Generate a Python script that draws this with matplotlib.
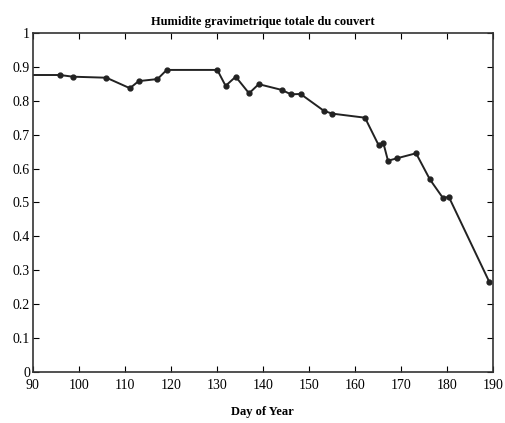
import matplotlib.pyplot as plt
import numpy as np

# jours et humidite
days = [90, 95.9, 98.7, 106.0, 111.1, 113.0, 117.1, 119.1, 130.1, 131.9, 134.1, 137.0,
        139.1, 144.1, 146.1, 148.2, 153.3, 155.1, 162.2, 165.2, 166.2, 167.2, 169.1,
        173.3, 176.3, 179.2, 180.4, 189.2]
humidity = [0.876, 0.876, 0.871, 0.868, 0.837, 0.858, 0.864, 0.891, 0.891, 0.844, 0.871, 0.822,
            0.849, 0.832, 0.819, 0.820, 0.770, 0.762, 0.750, 0.668, 0.675, 0.623, 0.630,
            0.645, 0.568, 0.512, 0.517, 0.266]

xticks = [90, 100, 110, 120, 130, 140, 150, 160, 170, 180, 190]
yticks = [0, 0.1, 0.2, 0.3, 0.4, 0.5, 0.6, 0.7, 0.8, 0.9, 1]
ylabels = ["0", "0.1", "0.2", "0.3", "0.4", "0.5", "0.6", "0.7", "0.8", "0.9", "1"]

plt.rcParams['font.family'] = ['Liberation Serif', 'DejaVu Serif']

fig = plt.figure(figsize=(5.05, 4.23), dpi=100)
ax = fig.add_axes([0.065, 0.121, 0.911, 0.801])

# pas de point visible au tout debut de la courbe
ax.plot(days, humidity, color='#222222', lw=1.4, marker='o', ms=3.5,
        markevery=list(range(1, len(days))))

ax.set_xlim(90, 190)
ax.set_ylim(0, 1)
ax.set_xticks(xticks)
ax.set_yticks(yticks)
ax.set_yticklabels(ylabels)
ax.tick_params(direction='in', top=True, right=True, length=4, labelsize=10)
ax.tick_params(axis='x', pad=5)
ax.tick_params(axis='y', pad=2)

for s in ax.spines.values():
    s.set_color('#333333')
    s.set_linewidth(1.2)

ax.set_title("Humidite gravimetrique totale du couvert", fontsize=9, fontweight='bold', pad=6)
ax.set_xlabel("Day of Year", fontsize=9, fontweight='bold', labelpad=10)

fig.savefig('out.png', dpi=100)
